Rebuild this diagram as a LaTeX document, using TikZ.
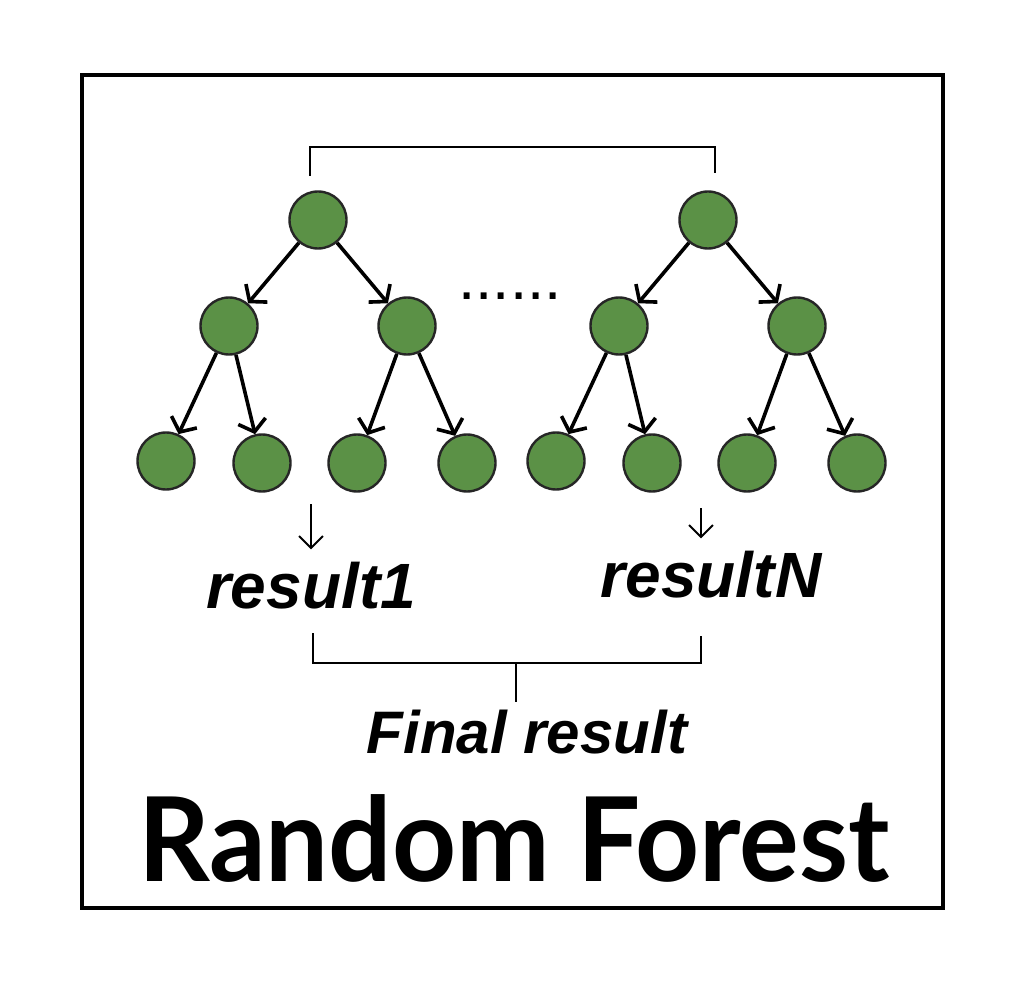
\documentclass[tikz,border=0pt]{standalone}
\usepackage{fontspec}
\usetikzlibrary{arrows.meta}
\newfontfamily\arialfont{Liberation Sans}
\newfontfamily\titlefont{Lato}
\definecolor{leafgreen}{RGB}{91,145,70}

\begin{document}
\begin{tikzpicture}[x=1pt,y=-1pt,
    treenode/.style={circle,draw=black!85,line width=2.4pt,fill=leafgreen,minimum size=57pt,inner sep=0pt},
    branch/.style={line width=3.6pt,-{Straight Barb[length=11pt,width=28pt]}},
    pointer/.style={line width=2pt,-{Straight Barb[length=12pt,width=24pt]},shorten >=12pt},
    bracket/.style={line width=1.8pt},
    result/.style={font=\arialfont\bfseries\itshape\fontsize{64}{64}\selectfont,inner sep=0pt,anchor=base}]
    \useasboundingbox (0,0) rectangle (1013,1000);

    % Draw the outer frame
    \draw[line width=3.5pt] (82,75) rectangle (943,908);

    % Draw the two trees
    \foreach \t/\x in {a/318, b/708} {
        \node[treenode] (\t root) at (\x,220) {};
        \node[treenode] (\t l) at (\x-89,326) {};
        \node[treenode] (\t r) at (\x+89,326) {};
        \node[treenode] (\t 1) at (\x-152,461) {};
        \node[treenode] (\t 2) at (\x-56,463) {};
        \node[treenode] (\t 3) at (\x+39,463) {};
        \node[treenode] (\t 4) at (\x+149,463) {};
        \foreach \p/\c in {root/l, root/r, l/1, l/2, r/3, r/4} {
            \draw[branch] (\t\p) -- (\t\c);
        }
    }

    % Dots between the trees
    \node[font=\arialfont\fontsize{62}{62}\selectfont,inner sep=0pt,anchor=base] (dots) at (510,300) {......};

    % Bracket over the trees
    \coordinate (topa) at (310,176);
    \coordinate (topb) at (715,173);
    \draw[bracket] (topa) -- (310,147) -- (715,147) -- (topb);

    % Results of each tree
    \node[result] (res1) at (311,608) {result1};
    \node[result] (resN) at (711,597) {resultN};
    \coordinate (ptr1) at (311,504);
    \coordinate (ptrN) at (701,508);
    \draw[pointer] (ptr1) -- (ptr1 |- res1.north);
    \draw[pointer] (ptrN) -- (ptrN |- resN.north);

    % Bracket joining the results
    \node[font=\arialfont\bfseries\itshape\fontsize{60}{60}\selectfont,inner sep=0pt,anchor=base] (final) at (527,753) {Final result};
    \coordinate (bota) at (313,633);
    \coordinate (botb) at (701,636);
    \draw[bracket] (bota) -- (313,663) -- (701,663) -- (botb);
    \draw[bracket] (516,663) -- (516,702);

    % Title
    \node[font=\titlefont\bfseries\fontsize{117}{117}\selectfont,inner sep=0pt,anchor=base,xscale=0.955] (title) at (514,881) {Random Forest};
\end{tikzpicture}
\end{document}
